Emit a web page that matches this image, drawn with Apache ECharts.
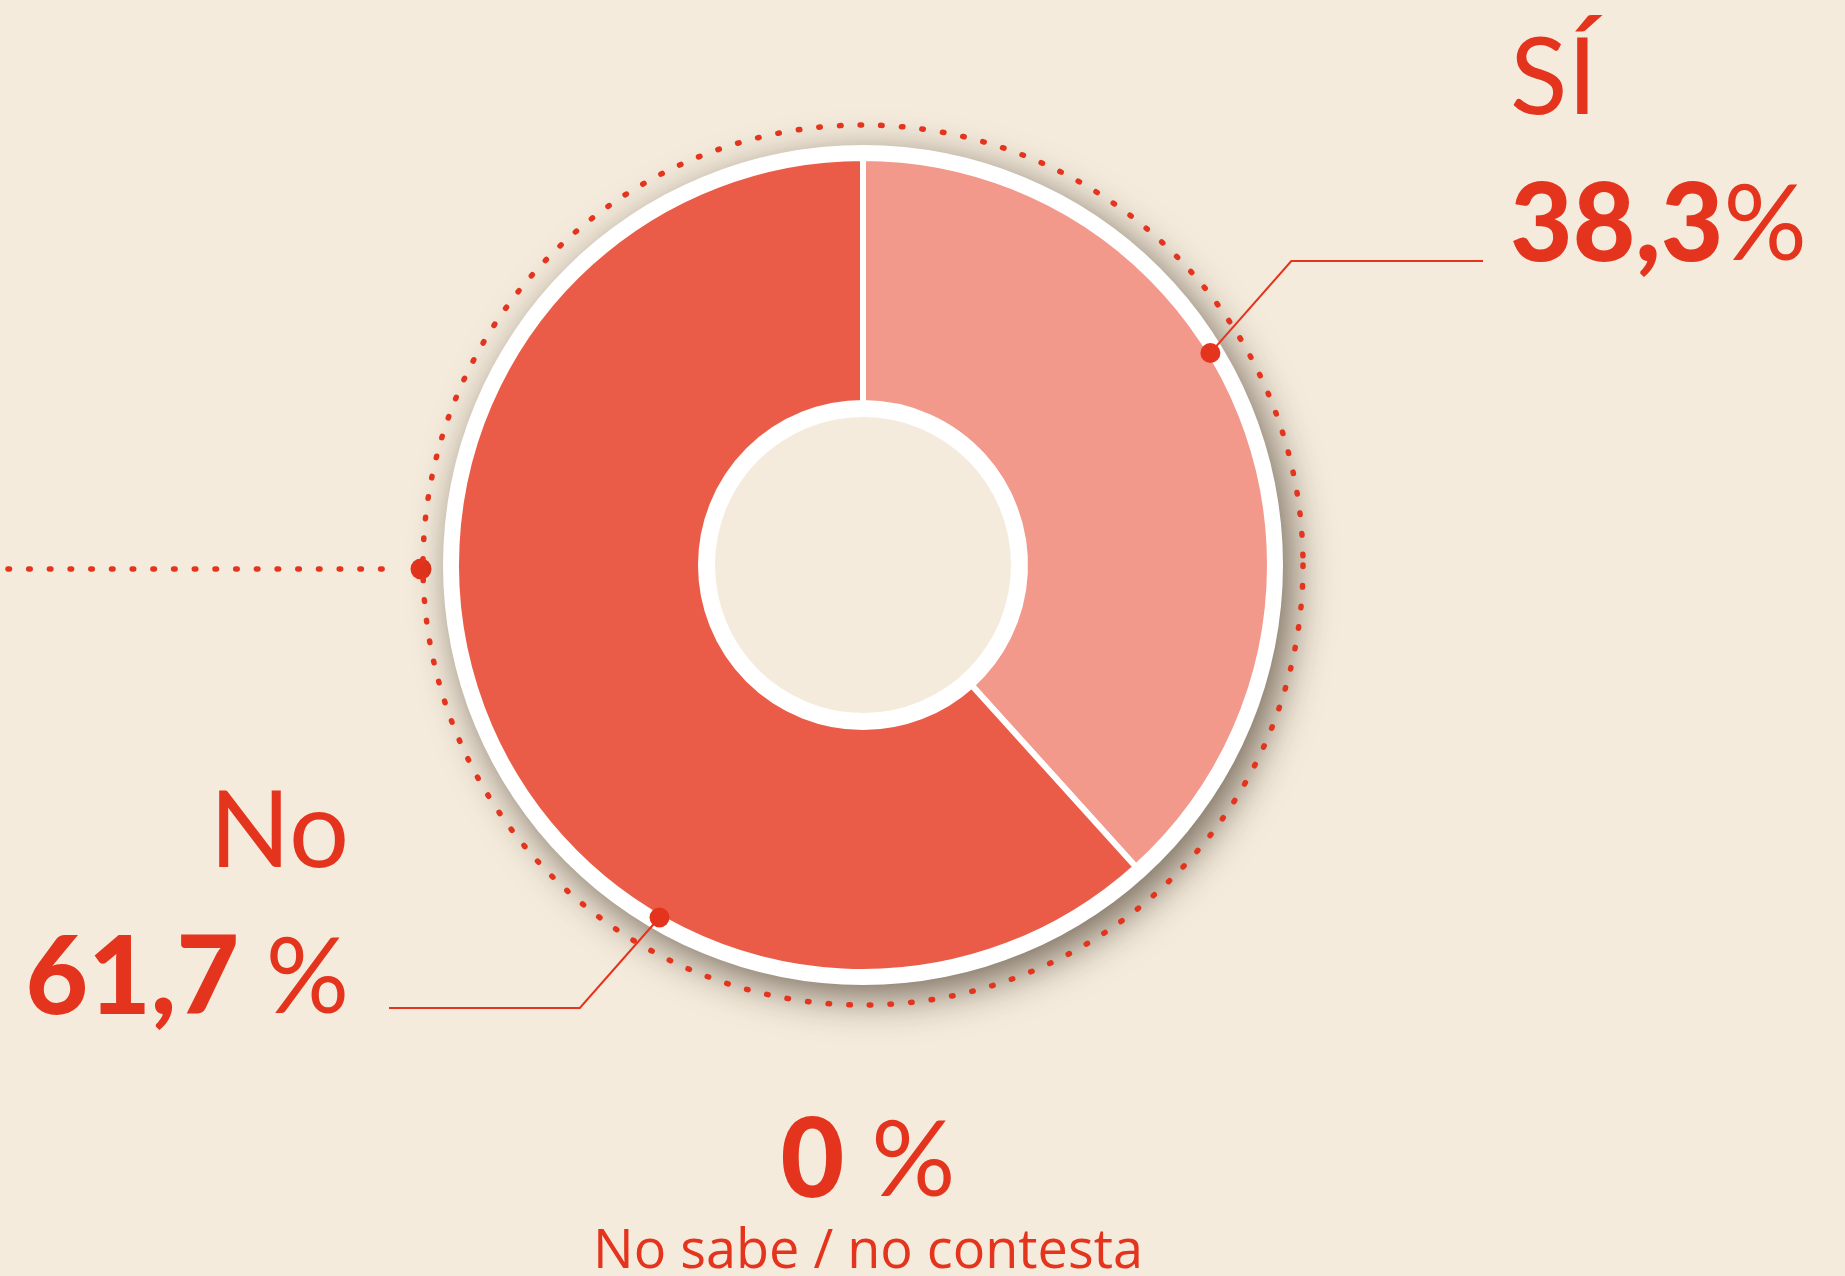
<!DOCTYPE html>
<html>
<head>
<meta charset="utf-8">
<title>Sí / No</title>
<script src="https://cdn.jsdelivr.net/npm/echarts@6/dist/echarts.min.js"></script>
<style>
html, body { margin: 0; padding: 0; background: #F4EBDC; }
#main { width: 1845px; height: 1276px; }
</style>
</head>
<body>
<div id="main"></div>
<script>
// datos
var categories = ['SÍ', 'No', 'No sabe / no contesta'];
var values = [38.3, 61.7, 0];
var pctGap = ['', ' ', ' '];

var RED = '#E5341D';
var BG = '#F4EBDC';
var sliceColors = ['#F3998B', '#EB5C48'];
var CX = 863, CY = 565;
var R_IN = 162, R_OUT = 407, R_WHITE_IN = 148, R_WHITE_OUT = 420, R_DOTS = 440;

// donde van las etiquetas (px) y el punto de anclaje (grados desde arriba, sentido horario)
var labelSpots = [
    { x: 1510, y: 6, align: 'left', anchorDeg: 58.6, lineY: 261, lineEnd: 1483 },
    { x: 349, y: 759, align: 'right', anchorDeg: 210, lineY: 1008, lineEnd: 389 }
];

function fmt(v) {
    return String(v).replace('.', ',');
}

var myChart = echarts.init(document.getElementById('main'));

var pieData = [];
for (var i = 0; i < 2; i++) {
    pieData.push({ name: categories[i], value: values[i], itemStyle: { color: sliceColors[i] } });
}
var anchorPts = labelSpots.map(function (s) { return [R_OUT, s.anchorDeg]; });

var richBig = {
    n: { fontFamily: 'Lato', fontWeight: 400, fontSize: 106, lineHeight: 147, color: RED },
    v: { fontFamily: 'Lato', fontWeight: 900, fontSize: 108, lineHeight: 147, color: RED },
    p: { fontFamily: 'Lato', fontWeight: 400, fontSize: 104, lineHeight: 147, color: RED }
};

option = {
    backgroundColor: BG,
    animation: false,
    polar: { center: [CX, CY], radius: R_DOTS },
    angleAxis: {
        type: 'value', min: 0, max: 360, startAngle: 90, clockwise: true, z: 3,
        axisLine: { show: true, lineStyle: { color: RED, width: 5.5, type: [1.5, 19.2], cap: 'round' } },
        axisTick: { show: false }, axisLabel: { show: false }, splitLine: { show: false }
    },
    radiusAxis: { min: 0, max: R_DOTS, show: false },
    graphic: [
        {
            type: 'line', silent: true,
            shape: { x1: 8, y1: 569, x2: 400, y2: 569 },
            style: { stroke: RED, lineWidth: 5.5, lineDash: [1.5, 19.2], lineCap: 'round' }
        },
        {
            type: 'circle', silent: true,
            shape: { cx: CX - R_DOTS - 2, cy: 569, r: 10.5 },
            style: { fill: RED }
        },
        {
            type: 'text', silent: true, x: 868, y: 1097,
            style: {
                text: '{v|' + fmt(values[2]) + '}{p|' + pctGap[2] + '%}',
                align: 'center', verticalAlign: 'top',
                rich: {
                    v: { fontFamily: 'Lato', fontWeight: 900, fontSize: 110, lineHeight: 130, fill: RED },
                    p: { fontFamily: 'Lato', fontWeight: 400, fontSize: 105, lineHeight: 130, fill: RED }
                }
            }
        },
        {
            type: 'text', silent: true, x: 868, y: 1223,
            style: {
                text: categories[2], align: 'center', verticalAlign: 'top',
                fontFamily: 'Open Sans', fontSize: 54, lineHeight: 60, fill: RED
            }
        }
    ],
    series: [
        {
            // anillo blanco con sombra
            type: 'pie', silent: true, z: 1,
            center: [CX, CY], radius: [0, R_WHITE_OUT],
            label: { show: false }, labelLine: { show: false },
            itemStyle: {
                color: '#fff', shadowBlur: 40, shadowColor: 'rgba(55,40,25,0.65)',
                shadowOffsetX: 10, shadowOffsetY: 12
            },
            data: [{ value: 1 }]
        },
        {
            type: 'pie', z: 4, silent: true,
            center: [CX, CY], radius: [R_IN, R_OUT],
            startAngle: 90, clockwise: true,
            avoidLabelOverlap: false,
            itemStyle: { borderColor: '#fff', borderWidth: 6 },
            label: {
                show: true, position: 'outside',
                formatter: function (p) {
                    return '{n|' + p.name + '}\n{v|' + fmt(p.value) + '}{p|' + pctGap[p.dataIndex] + '%}';
                },
                rich: richBig
            },
            labelLine: { show: true, length: 10, length2: 10, lineStyle: { color: RED, width: 2 } },
            labelLayout: function (params) {
                var s = labelSpots[params.dataIndex];
                var a = s.anchorDeg * Math.PI / 180;
                var ax = CX + R_OUT * Math.sin(a);
                var ay = CY - R_OUT * Math.cos(a);
                var dir = s.lineEnd > ax ? 1 : -1;
                var kx = ax + dir * Math.abs(s.lineY - ay) * 0.88;
                return {
                    x: s.x, y: s.y, align: s.align, verticalAlign: 'top',
                    labelLinePoints: [[ax, ay], [kx, s.lineY], [s.lineEnd, s.lineY]]
                };
            },
            data: pieData
        },
        {
            // hueco central
            type: 'pie', silent: true, z: 5,
            center: [CX, CY], radius: [0, R_WHITE_IN],
            label: { show: false }, labelLine: { show: false },
            itemStyle: { color: BG },
            data: [{ value: 1 }]
        },
        {
            type: 'scatter', coordinateSystem: 'polar', silent: true, z: 10,
            symbolSize: 20, itemStyle: { color: RED, opacity: 1 },
            data: anchorPts
        }
    ]
};
myChart.setOption(option);
</script>
</body>
</html>
